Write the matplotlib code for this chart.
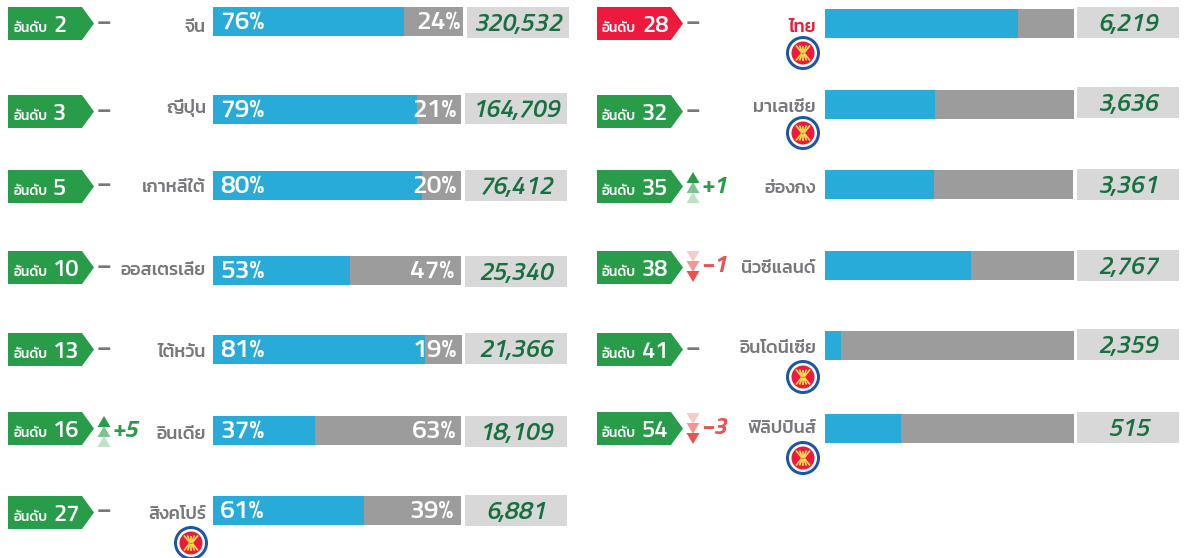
import matplotlib
matplotlib.use("Agg")
import matplotlib.pyplot as plt
from matplotlib.patches import Polygon, Circle

THAI_FONT = ["Kanit", "Noto Sans Thai", "DejaVu Sans"]
NUM_FONT = ["Titillium Web", "Kanit", "DejaVu Sans"]
plt.rcParams["font.family"] = THAI_FONT

# Left column
left_countries = ["จีน", "ญี่ปุ่น", "เกาหลีใต้", "ออสเตรเลีย", "ไต้หวัน", "อินเดีย", "สิงคโปร์"]
left_ranks = [2, 3, 5, 10, 13, 16, 27]
left_changes = [0, 0, 0, 0, 0, 5, 0]
left_share = [76, 79, 80, 53, 81, 37, 61]
left_values = ["320,532", "164,709", "76,412", "25,340", "21,366", "18,109", "6,881"]
# bar lengths as drawn in the picture, they do not follow the labels exactly
left_blue = [191, 204, 209, 137, 212, 102, 151]
left_total = [250, 248, 248, 248, 249, 248, 248]

# Right column, no share labels here
right_countries = ["ไทย", "มาเลเซีย", "ฮ่องกง", "นิวซีแลนด์", "อินโดนีเซีย", "ฟิลิปปินส์"]
right_ranks = [28, 32, 35, 38, 41, 54]
right_changes = [0, 0, 1, -1, 0, -3]
right_values = ["6,219", "3,636", "3,361", "2,767", "2,359", "515"]
right_blue = [193, 110, 109, 146, 16, 76]
right_total = [249, 249, 248, 249, 249, 249]

BLUE = "#29abd9"
GRAY = "#9c9c9c"
BOX = "#d8d8d8"
GREEN = "#289c49"
RED = "#ed1a3d"
DOWN = "#e8524f"
TEXT = "#77787b"
VALUE = "#17703f"

# layout in pixels, one entry per row
left_layout = {
    "badge_x": 8, "bar_x": 213, "box_x": [467, 465, 465, 465, 465, 465, 465], "name_x": 206,
    "badge_y": [7, 95, 170, 251, 333, 412, 496],
    "bar_y": [7, 95, 171, 256, 335, 416, 496],
    "box_y": [7, 93, 170, 256, 333, 416, 495],
    "name_base": [32, 113, 192, 275, 357, 439, 519],
    "pct_end": [461, 457, 457, 454, 457, 456, 454],
    "arrow_y": [None, None, None, None, None, 416, None],
    "logo_x": 191,
    "logo_y": [None, None, None, None, None, None, 543],
}
right_layout = {
    "badge_x": 597, "bar_x": 825, "box_x": [1077] * 6, "name_x": 816,
    "badge_y": [7, 95, 170, 251, 333, 412],
    "bar_y": [9, 90, 170, 251, 331, 414],
    "box_y": [7, 87, 169, 250, 329, 412],
    "name_base": [32, 112, 193, 273, 353, 433],
    "arrow_y": [None, None, 172, 251, None, 413],
    "logo_x": 803,
    "logo_y": [53, 133, None, None, 377, 458],
}

fig = plt.figure(figsize=(11.86, 5.58), dpi=100)
ax = fig.add_axes([0, 0, 1, 1])
ax.set_xlim(0, 1186)
ax.set_ylim(558, 0)
ax.axis("off")


def draw_logo(cx, cy):
    ax.add_patch(Circle((cx, cy), 17, color="#1a57a5", lw=0))
    ax.add_patch(Circle((cx, cy), 14, color="white", lw=0))
    ax.add_patch(Circle((cx, cy), 11.5, color=RED, lw=0))
    for dx in [-7, -3.5, 0, 3.5, 7]:
        ax.plot([cx + dx, cx + dx * 0.2], [cy - 7.5, cy - 0.5], color="#f7e04b", lw=1.2, solid_capstyle="butt")
        ax.plot([cx + dx * 0.2, cx + dx], [cy + 0.5, cy + 7.5], color="#f7e04b", lw=1.2, solid_capstyle="butt")


def draw_change(x, by, arrow_y, change):
    if change == 0:
        ax.text(x, by + 16, "–", color=TEXT, fontsize=17, fontweight="bold", ha="center", va="center", family=NUM_FONT)
        return
    color = GREEN if change > 0 else DOWN
    alphas = [1, 0.6, 0.3] if change > 0 else [0.3, 0.6, 1]
    for k, alpha in enumerate(alphas):
        top = arrow_y + k * 10
        tip, base = (top, top + 11) if change > 0 else (top + 11, top)
        ax.add_patch(Polygon([(x - 6.5, base), (x + 6.5, base), (x, tip)], color=color, alpha=alpha, lw=0))
    ax.text(x + 7, arrow_y + 21, f"{'+' if change > 0 else '−'}{abs(change)}", color=color,
            fontsize=17, fontweight="bold", fontstyle="italic", ha="left", va="baseline", family=NUM_FONT)


def draw_column(countries, ranks, changes, blue, total, values, layout, share=None):
    for i, name in enumerate(countries):
        bx = layout["badge_x"]
        by = layout["badge_y"][i]
        y = layout["bar_y"][i]
        x0 = layout["bar_x"]
        color = RED if name == "ไทย" else GREEN

        ax.add_patch(Polygon([(bx, by), (bx + 74, by), (bx + 86, by + 16.5), (bx + 74, by + 33), (bx, by + 33)], color=color, lw=0))
        ax.text(bx + 5, by + 25, "อันดับ", color="white", fontsize=10, fontweight="medium", ha="left", va="baseline")
        ax.text(bx + 45, by + 25, str(ranks[i]), color="white", fontsize=17, fontweight="semibold", ha="left", va="baseline", family=NUM_FONT)
        draw_change(bx + 96, by, layout["arrow_y"][i], changes[i])
        ax.text(layout["name_x"], layout["name_base"][i], name, color=RED if name == "ไทย" else TEXT, fontsize=13,
                fontweight="medium", ha="right", va="baseline")

        ax.barh(y + 14.5, blue[i], height=29, left=x0, color=BLUE, lw=0)
        ax.barh(y + 14.5, total[i] - blue[i], height=29, left=x0 + blue[i], color=GRAY, lw=0)
        if share is not None:
            ax.text(x0 + 7, y + 22, f"{share[i]}%", color="white", fontsize=19, fontweight="semibold", ha="left", va="baseline", family=NUM_FONT)
            ax.text(layout["pct_end"][i], y + 22, f"{100 - share[i]}%", color="white", fontsize=19, fontweight="semibold", ha="right", va="baseline", family=NUM_FONT)

        box_x = layout["box_x"][i]
        box_y = layout["box_y"][i]
        ax.barh(box_y + 15.5, 102, height=31, left=box_x, color=BOX, lw=0)
        ax.text(box_x + 51, box_y + 24, values[i], color=VALUE, fontsize=18, fontweight="semibold", fontstyle="italic",
                ha="center", va="baseline", family=NUM_FONT)
        if layout["logo_y"][i] is not None:
            draw_logo(layout["logo_x"], layout["logo_y"][i])


draw_column(left_countries, left_ranks, left_changes, left_blue, left_total, left_values, left_layout, left_share)
draw_column(right_countries, right_ranks, right_changes, right_blue, right_total, right_values, right_layout)

fig.savefig("out.png", dpi=100)
